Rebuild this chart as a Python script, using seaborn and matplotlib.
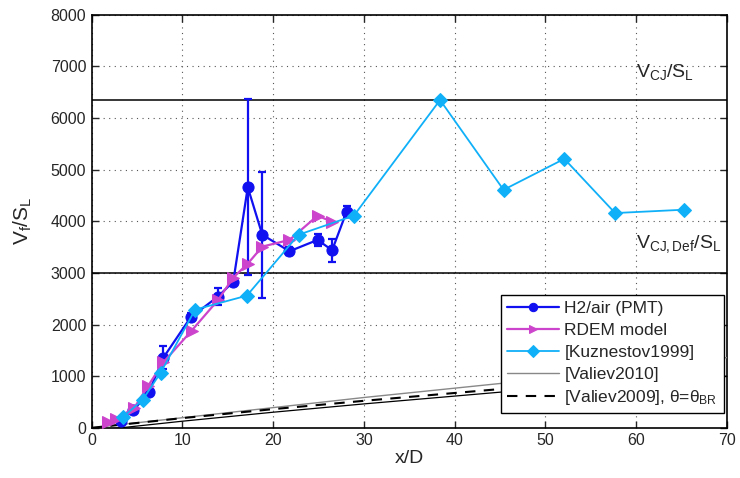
import matplotlib
matplotlib.use("Agg")
import matplotlib.pyplot as plt
import pandas as pd
import seaborn as sns

# H2/air (PMT) measurements with error bars
pmt_x = [3.2, 4.6, 6.3, 7.9, 10.9, 13.9, 15.6, 17.2, 18.8, 21.8, 24.9, 26.5, 28.1]
pmt_y = [130, 340, 690, 1360, 2140, 2540, 2830, 4660, 3740, 3420, 3640, 3440, 4190]
pmt_err = [0, 0, 0, 230, 80, 160, 60, 1700, 1220, 80, 120, 220, 100]

# RDEM model
rdem_x = [1.8, 2.7, 4.7, 6.2, 7.9, 11.0, 13.9, 15.6, 17.2, 18.8, 21.8, 24.9, 26.5]
rdem_y = [110, 170, 390, 810, 1270, 1880, 2470, 2910, 3180, 3510, 3640, 4110, 3990]

# [Kuznestov1999]
kuz_x = [3.4, 5.6, 7.6, 11.4, 17.1, 22.8, 28.9, 38.4, 45.4, 52.1, 57.7, 65.3]
kuz_y = [200, 540, 1070, 2290, 2560, 3740, 4110, 6350, 4610, 5210, 4160, 4225]

# [Valiev2010] and [Valiev2009]
val10_x = [0, 30, 45, 70]
val10_y = [0, 587, 858, 1360]
val09_x = [0, 10, 20, 30, 45, 70]
val09_y = [0, 188, 362, 523, 750, 1060]

v_cj = 6350
v_cj_def = 3000

sns.set_style("ticks")
plt.rcParams["font.family"] = ["Liberation Sans", "DejaVu Sans"]
plt.rcParams["mathtext.fontset"] = "custom"
plt.rcParams["mathtext.rm"] = "Liberation Sans"
plt.rcParams["mathtext.it"] = "Liberation Sans"
plt.rcParams["mathtext.bf"] = "Liberation Sans:bold"

fig = plt.figure(figsize=(7.4, 4.78), dpi=100)
ax = fig.add_axes([0.124, 0.105, 0.858, 0.864])

pmt = pd.DataFrame({"x": pmt_x, "y": pmt_y})
rdem = pd.DataFrame({"x": rdem_x, "y": rdem_y})
kuz = pd.DataFrame({"x": kuz_x, "y": kuz_y})
val10 = pd.DataFrame({"x": val10_x, "y": val10_y})
val09 = pd.DataFrame({"x": val09_x, "y": val09_y})

blue = "#1010f0"
magenta = "#cc44cc"
cyan = "#10b0f8"

ax.axhline(v_cj, color="black", lw=1.1, zorder=2)
ax.axhline(v_cj_def, color="black", lw=1.1, zorder=2)

sns.lineplot(data=val10, x="x", y="y", ax=ax, color="#888888", lw=1.0,
             estimator=None, sort=False, label="[Valiev2010]", zorder=3)
sns.lineplot(x=val09["x"], y=[v - 60 for v in val09["y"]], ax=ax, color="black",
             lw=0.9, estimator=None, sort=False, zorder=3)
sns.lineplot(data=val09, x="x", y="y", ax=ax, color="black", lw=1.5,
             linestyle=(0, (5, 4)), estimator=None, sort=False,
             label=r"[Valiev2009], $\theta$=$\theta_{BR}$", zorder=3)

ax.errorbar(pmt_x, pmt_y, yerr=pmt_err, fmt="none", ecolor=blue, elinewidth=1.6,
            capsize=3, capthick=1.6, zorder=4)
sns.lineplot(data=pmt, x="x", y="y", ax=ax, color=blue, lw=1.6, marker="o",
             markersize=8, markeredgecolor=blue, estimator=None, sort=False,
             label="H2/air (PMT)", zorder=5)
sns.lineplot(data=rdem, x="x", y="y", ax=ax, color=magenta, lw=1.6, marker=">",
             markersize=9, markeredgecolor=magenta, estimator=None, sort=False,
             label="RDEM model", zorder=5)
sns.lineplot(data=kuz, x="x", y="y", ax=ax, color=cyan, lw=1.3, marker="D",
             markersize=7, markeredgecolor=cyan, estimator=None, sort=False,
             label="[Kuznestov1999]", zorder=5)

ax.text(60, 6790, r"V$_{CJ}$/S$_L$", fontsize=14, va="baseline", ha="left")
ax.text(60, 3490, r"V$_{CJ,Def}$/S$_L$", fontsize=14, va="baseline", ha="left")

ax.set_xlim(0, 70)
ax.set_ylim(0, 8000)
ax.set_xticks(range(0, 71, 10))
ax.set_yticks(range(0, 8001, 1000))
ax.grid(True, linestyle=(0, (1, 4)), color="#555555", lw=0.8)
ax.tick_params(direction="in", top=True, right=True, length=5, width=1,
               labelsize=11.5, pad=4)
for sp in ax.spines.values():
    sp.set_linewidth(1.2)
    sp.set_color("black")

ax.set_xlabel("x/D", fontsize=14, labelpad=1)
ax.set_ylabel(r"V$_f$/S$_L$", fontsize=15, labelpad=12)

handles, labels = ax.get_legend_handles_labels()
order = ["H2/air (PMT)", "RDEM model", "[Kuznestov1999]", "[Valiev2010]",
         r"[Valiev2009], $\theta$=$\theta_{BR}$"]
hmap = dict(zip(labels, handles))
leg = ax.legend([hmap[k] for k in order], order, loc="lower right",
                bbox_to_anchor=(0.995, 0.035), fontsize=12.5, frameon=True,
                fancybox=False, edgecolor="black", framealpha=1,
                handlelength=3.0, handletextpad=0.3, borderpad=0.35,
                labelspacing=0.38, borderaxespad=0)
leg.get_frame().set_linewidth(1.0)
for line in leg.get_lines():
    if line.get_marker() not in (None, "None", ""):
        line.set_markersize(6)

fig.savefig("out.png", dpi=100)
